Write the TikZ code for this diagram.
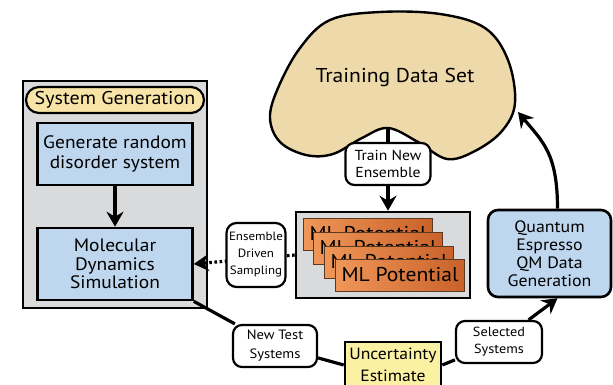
\documentclass[tikz,border=0pt]{standalone}
\usepackage{fontspec}
\setmainfont{PT Sans}[FakeStretch=1.08]
\usetikzlibrary{arrows.meta}
\pgfdeclarelayer{back}
\pgfdeclarelayer{links}
\pgfsetlayers{back,links,main}
\definecolor{framegray}{HTML}{D9DADC}
\definecolor{boxblue}{HTML}{BED6EE}
\definecolor{pillyellow}{HTML}{F9E4A8}
\definecolor{blobtan}{HTML}{EDD9A9}
\definecolor{uncyellow}{HTML}{FAF1A2}
\definecolor{orangeL}{HTML}{EF9658}
\definecolor{orangeR}{HTML}{C9622A}
\definecolor{cardedge}{HTML}{5A3A22}
\newcommand{\fs}[2]{\fontsize{#1}{#2}\selectfont}
\begin{document}
\begin{tikzpicture}[x=1pt,y=-1pt,
  frame/.style={draw, line width=2.6pt, fill=framegray, inner sep=0pt},
  bluebox/.style={draw, line width=2.6pt, fill=boxblue, align=center, inner sep=0pt},
  tag/.style={draw, line width=2.2pt, fill=white, rounded corners=9pt, align=center, inner sep=0pt},
  pill/.style={draw, line width=2.2pt, fill=pillyellow, rounded corners=13pt, inner sep=0pt},
  card/.style={draw=cardedge, line width=0.8pt, left color=orangeL, right color=orangeR,
    minimum width=129, minimum height=32, inner sep=0pt, font=\fs{20}{22}},
  link/.style={line width=3.2pt},
  tip/.style={-{Stealth[length=15pt,width=17pt,inset=5pt]}}]
\useasboundingbox (0,0) rectangle (613,385);

% frames and the training data cloud
\begin{pgfonlayer}{back}
  \node[frame, minimum width=184, minimum height=227] (sysframe) at (115,194.5) {};
  \node[frame, minimum width=174, minimum height=86] (mlframe) at (383,255) {};
  \draw[line width=2.4pt, fill=blobtan] plot[smooth cycle, tension=0.6] coordinates {
    (388,128) (418,142) (447,159) (475,151) (502,131) (515,103) (508,60)
    (485,28) (440,14) (380,12) (330,20) (300,48) (278,88) (270,118)
    (280,142) (306,155) (333,154) (362,138)};
\end{pgfonlayer}

% system generation column
\node[pill, minimum width=178, minimum height=26, font=\fs{18.5}{20}] (sysgen) at (115,100) {System Generation};
\node[bluebox, minimum width=155, minimum height=62, font=\fs{18}{19.5}] (gen) at (115,154) {Generate random\\disorder system};
\node[bluebox, minimum width=155, minimum height=72, font=\fs{18}{18.5}] (md) at (115,264) {Molecular\\Dynamics\\Simulation};

% training data set
\node[font=\fs{20}{22}] (data) at (395,78) {Training Data Set};
\coordinate (blobdip) at (388,128);
\coordinate (blobside) at (518,112);
\node[tag, minimum width=85, minimum height=42, font=\fs{14.5}{17.5}] (train) at (388,164) {Train New\\Ensemble};

% ensemble of potentials
\node[card] (pot1) at (368,234) {ML Potential};
\node[card] (pot2) at (378,248) {ML Potential};
\node[card] (pot3) at (389,262) {ML Potential};
\node[card] (pot4) at (400,275) {ML Potential};

\node[tag, rounded corners=10pt, minimum width=59, minimum height=64, font=\fs{12}{17}] (eds) at (256,255) {Ensemble\\Driven\\Sampling};
\node[tag, minimum width=84, minimum height=42, font=\fs{13.5}{19}] (newtest) at (275,346) {New Test\\Systems};
\node[draw, line width=2.6pt, fill=uncyellow, inner sep=0pt, align=center,
      minimum width=96, minimum height=46, font=\fs{16.3}{22}] (unc) at (393,365) {Uncertainty\\Estimate};
\node[tag, minimum width=86, minimum height=42, font=\fs{13.2}{17}] (selected) at (499,342) {Selected\\Systems};
\node[bluebox, rounded corners=10pt, minimum width=123, minimum height=87, font=\fs{16.5}{18}] (qm) at (549.5,253.5) {Quantum\\Espresso\\QM Data\\Generation};

% connectors
\begin{pgfonlayer}{links}
  \draw[link, tip] (blobdip) -- (blobdip |- mlframe.north);
  \draw[link, tip] (gen) -- (md);
  \draw[link, tip, dash pattern=on 2.6pt off 2.6pt] (mlframe.west) -- (md.east);
  \draw[link] (md.south east) -- (newtest) -- (unc.west);
  \draw[link] (unc.east) -- (selected);
  \draw[link, tip] (selected) -- ([xshift=8pt]qm.south);
  \draw[link, tip] ([xshift=8pt]qm.north) .. controls +(0,-55) and +(25,30) .. (blobside);
\end{pgfonlayer}
\end{tikzpicture}
\end{document}
